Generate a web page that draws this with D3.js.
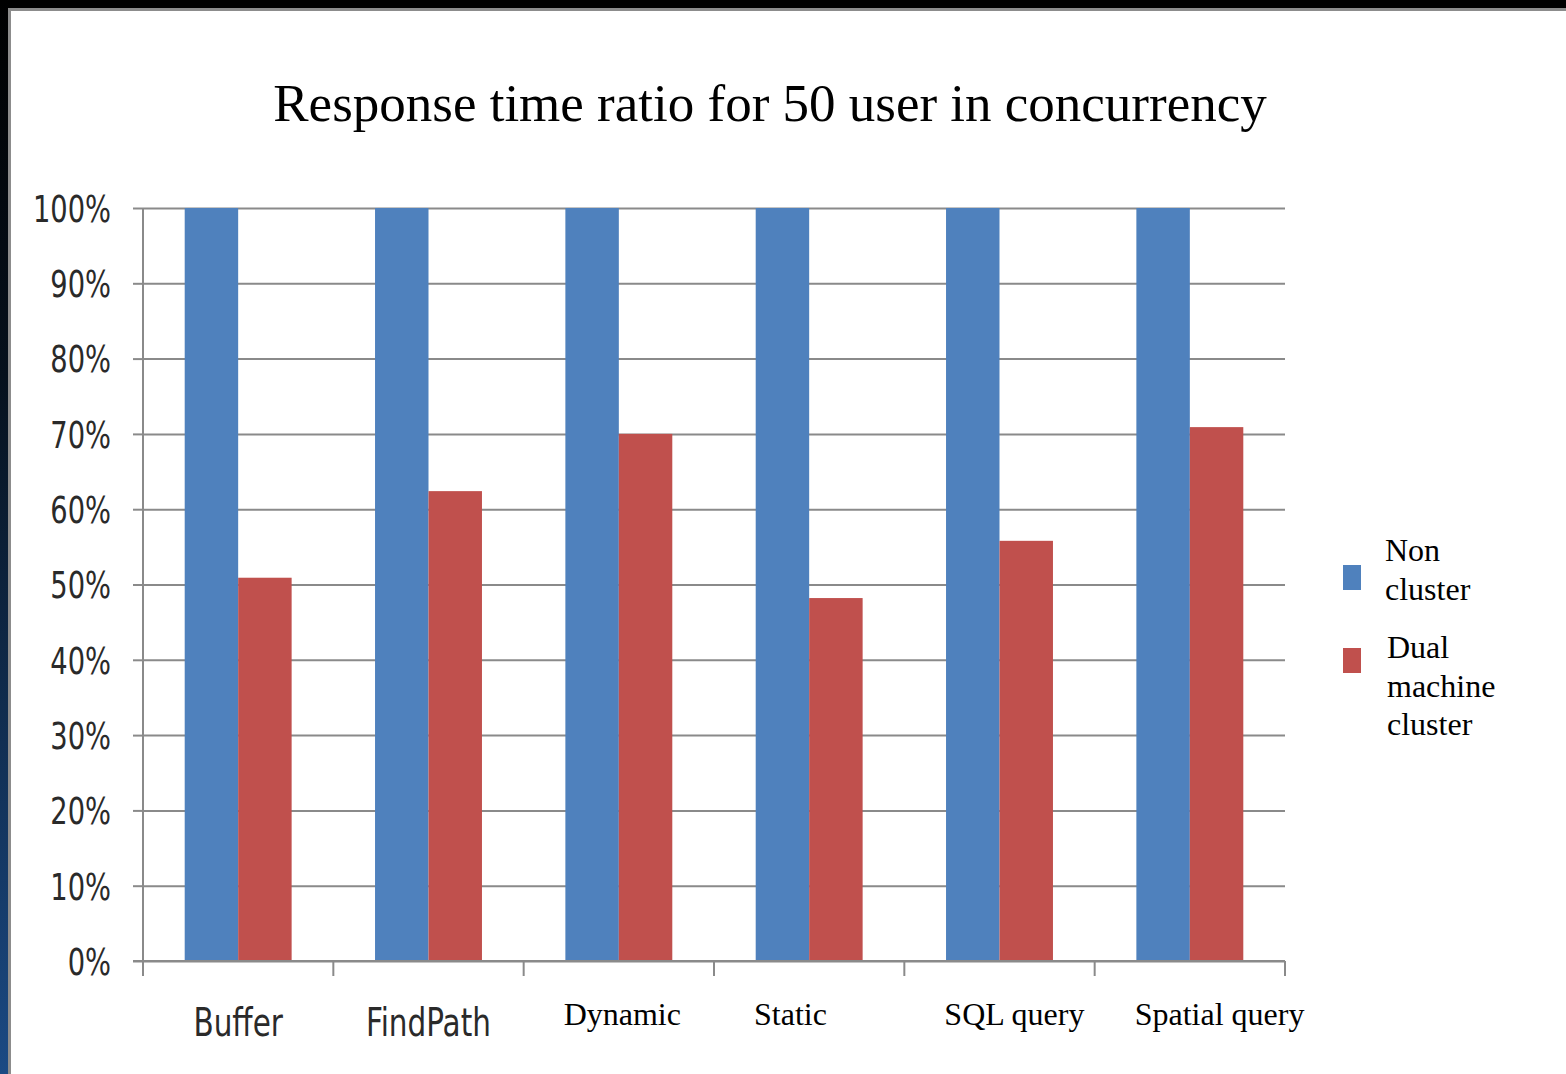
<!DOCTYPE html>
<html>
<head>
<meta charset="utf-8">
<script src="https://cdn.jsdelivr.net/npm/d3@7/dist/d3.min.js"></script>
<style>
  body { margin: 0; background: #fff; }
  svg { display: block; }
</style>
</head>
<body>
<div class="chart-wrapper"></div>
<script>
let W = 1566;
let H = 1074;

let categories = ["Buffer", "FindPath", "Dynamic", "Static", "SQL query", "Spatial query"];
let serifLabels = ["Dynamic", "Static", "SQL query", "Spatial query"];
let seriesNames = ["Non cluster", "Dual machine cluster"];
let nonCluster = [1.00, 1.00, 1.00, 1.00, 1.00, 1.00];
let dualCluster = [0.509, 0.624, 0.700, 0.482, 0.558, 0.709];
let yTicks = [0, 0.1, 0.2, 0.3, 0.4, 0.5, 0.6, 0.7, 0.8, 0.9, 1.0];
let legendLines = [["Non", "cluster"], ["Dual", "machine", "cluster"]];
let colors = ["#4f81bd", "#c0504d"];

let plotLeft = 143, plotRight = 1285, plotTop = 208, plotBottom = 961;
let sansFont = "'Liberation Sans Narrow', 'DejaVu Sans Condensed', sans-serif";
let serifFont = "'Liberation Serif', 'Times New Roman', serif";

// squeeze sans text to look like the narrow office font
function condense(sel, factor) {
  sel.each(function() {
    let len = this.getComputedTextLength();
    d3.select(this).attr("textLength", len * factor).attr("lengthAdjust", "spacingAndGlyphs");
  });
}

let viz = d3.select(".chart-wrapper")
  .append("svg")
  .attr("width", W)
  .attr("height", H)
  .style("background-color", "#ffffff");

// frame (screenshot border)
let grad = viz.append("defs").append("linearGradient")
  .attr("id", "leftedge").attr("x1", 0).attr("y1", 0).attr("x2", 0).attr("y2", 1);
grad.append("stop").attr("offset", "0%").attr("stop-color", "#000000");
grad.append("stop").attr("offset", "35%").attr("stop-color", "#06111d");
grad.append("stop").attr("offset", "100%").attr("stop-color", "#1b4a84");
viz.append("rect").attr("x", 0).attr("y", 0).attr("width", W).attr("height", 8).attr("fill", "#000");
viz.append("rect").attr("x", 8).attr("y", 8).attr("width", W - 8).attr("height", 3).attr("fill", "#8c8c8c");
viz.append("rect").attr("x", 0).attr("y", 0).attr("width", 8).attr("height", H).attr("fill", "url(#leftedge)");
viz.append("rect").attr("x", 8).attr("y", 8).attr("width", 3).attr("height", H - 8).attr("fill", "#8c8c8c");

// title
viz.append("text")
  .attr("x", 770)
  .attr("y", 121)
  .attr("text-anchor", "middle")
  .style("font-family", serifFont)
  .style("font-size", "53px")
  .attr("fill", "#000")
  .text("Response time ratio for 50 user in concurrency");

// scales
let xScale = d3.scaleBand().domain(categories).range([plotLeft, plotRight]).padding(0);
let xInner = d3.scaleBand().domain(seriesNames).range([0, xScale.bandwidth()]).paddingInner(0).paddingOuter(0.78);
let yScale = d3.scaleLinear().domain([0, 1]).range([plotBottom, plotTop]);

// gridlines
let grid = viz.append("g")
  .attr("class", "grid")
  .attr("transform", "translate(" + plotLeft + ",0)")
  .call(d3.axisLeft(yScale).tickValues(yTicks).tickSize(-(plotRight - plotLeft)).tickFormat(""));
grid.select(".domain").remove();
grid.selectAll("line").attr("stroke", "#8a8a8a").attr("stroke-width", 2);

// bars
let data = categories.map(function(c, i) {
  return { category: c, values: [nonCluster[i], dualCluster[i]] };
});
let groups = viz.selectAll(".group").data(data).enter()
  .append("g")
  .attr("class", "group")
  .attr("transform", d => "translate(" + xScale(d.category) + ",0)");
groups.selectAll("rect")
  .data(d => d.values.map((v, j) => ({ name: seriesNames[j], value: v, j: j })))
  .enter()
  .append("rect")
  .attr("x", d => xInner(d.name))
  .attr("width", xInner.bandwidth())
  .attr("y", d => yScale(d.value))
  .attr("height", d => yScale(0) - yScale(d.value))
  .attr("fill", d => colors[d.j]);

// y axis
let yAxisGroup = viz.append("g")
  .attr("class", "yaxis")
  .attr("transform", "translate(" + plotLeft + ",0)")
  .call(d3.axisLeft(yScale).tickValues(yTicks).tickSize(10).tickPadding(22).tickFormat(d3.format(".0%")));
yAxisGroup.select(".domain").attr("stroke", "#8a8a8a").attr("stroke-width", 2).attr("d", "M0," + plotTop + "V" + (plotBottom + 14));
yAxisGroup.selectAll("line").attr("stroke", "#8a8a8a").attr("stroke-width", 2);
yAxisGroup.selectAll("text")
  .attr("fill", "#2a2a2a")
  .attr("dy", "0.36em")
  .style("font-family", sansFont)
  .style("font-size", "37px")
  .call(condense, 0.82);

// x axis
let xAxisGroup = viz.append("g")
  .attr("class", "xaxis")
  .attr("transform", "translate(0," + plotBottom + ")");
xAxisGroup.append("line")
  .attr("x1", plotLeft - 10).attr("x2", plotRight)
  .attr("stroke", "#8a8a8a").attr("stroke-width", 2);
xAxisGroup.selectAll(".tick")
  .data(categories.concat(["end"]))
  .enter()
  .append("line")
  .attr("x1", (d, i) => i < categories.length ? xScale(d) : plotRight)
  .attr("x2", (d, i) => i < categories.length ? xScale(d) : plotRight)
  .attr("y1", 0).attr("y2", 15)
  .attr("stroke", "#8a8a8a").attr("stroke-width", 2);

// Calibri-style labels centred, pasted Times text boxes start a bit inside the band
let sansLabels = xAxisGroup.selectAll(".xlabel")
  .data(categories.filter(d => !serifLabels.includes(d)))
  .enter()
  .append("text")
  .attr("class", "xlabel")
  .attr("x", d => xScale(d) + xScale.bandwidth() / 2)
  .attr("y", 75)
  .attr("text-anchor", "middle")
  .attr("fill", "#2a2a2a")
  .style("font-family", sansFont)
  .style("font-size", "39px")
  .text(d => d);
sansLabels.call(condense, 0.84);

xAxisGroup.selectAll(".xlabel-serif")
  .data(serifLabels)
  .enter()
  .append("text")
  .attr("class", "xlabel-serif")
  .attr("x", d => xScale(d) + 40)
  .attr("y", 64)
  .attr("text-anchor", "start")
  .attr("fill", "#000")
  .style("font-family", serifFont)
  .style("font-size", "32px")
  .text(d => d);

// legend
let legend = viz.append("g").attr("class", "legend").attr("transform", "translate(1343,0)");
let legendY = [565, 648];
legend.selectAll("rect")
  .data(seriesNames)
  .enter()
  .append("rect")
  .attr("x", 0)
  .attr("y", (d, i) => legendY[i])
  .attr("width", 18)
  .attr("height", 25)
  .attr("fill", (d, i) => colors[i]);
legend.selectAll(".legtext")
  .data(legendLines)
  .enter()
  .append("text")
  .attr("class", "legtext")
  .attr("x", (d, i) => i === 0 ? 42 : 44)
  .attr("y", (d, i) => i === 0 ? 561 : 658)
  .style("font-family", serifFont)
  .style("font-size", "32px")
  .attr("fill", "#000")
  .selectAll("tspan")
  .data(d => d)
  .enter()
  .append("tspan")
  .attr("x", function() { return d3.select(this.parentNode).attr("x"); })
  .attr("dy", (d, i) => i === 0 ? 0 : 38.5)
  .text(d => d);
</script>
</body>
</html>
